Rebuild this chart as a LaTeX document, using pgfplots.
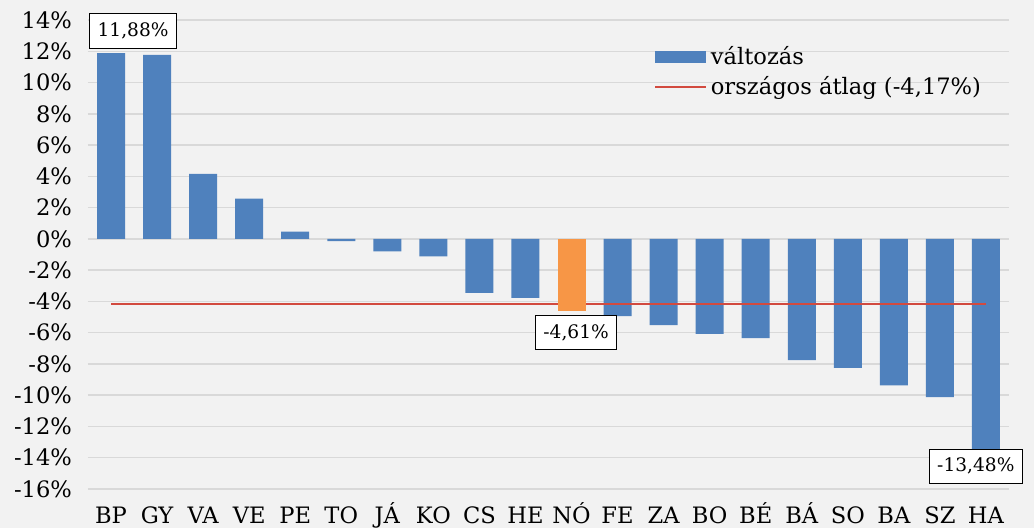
\documentclass[border=0pt]{standalone}
\usepackage{pgfplots}
\pgfplotsset{compat=1.18}
\usepackage{fontspec}
\setmainfont{DejaVu Serif}
\definecolor{barblue}{HTML}{4F81BD}
\definecolor{barorange}{HTML}{F79646}
\definecolor{avgred}{HTML}{D24A3F}
\definecolor{gridgray}{HTML}{D9D9D9}
\definecolor{bggray}{HTML}{F2F2F2}
\begin{document}
\begin{tikzpicture}[x=1pt,y=1pt]
\fill[bggray] (-44,-19.5) rectangle (473,244.5);
\useasboundingbox (-44,-19.5) rectangle (473,244.5);
\begin{axis}[at={(0,0)}, anchor=south west, scale only axis,
  width=460.5pt, height=234.5pt,
  xmin=-0.5, xmax=19.5, ymin=-16, ymax=14,
  xtick={0,...,19},
  xticklabels={BP,GY,VA,VE,PE,TO,JÁ,KO,CS,HE,NÓ,FE,ZA,BO,BÉ,BÁ,SO,BA,SZ,HA},
  ytick={-16,-14,...,14},
  yticklabel={\pgfmathprintnumber{\tick}\%},
  /pgf/number format/assume math mode=true,
  ymajorgrids, grid style={gridgray, line width=0.75pt},
  axis line style={draw=none}, major tick length=0pt,
  tick label style={font=\fontsize{11.3}{13}\selectfont},
  xticklabel style={text height=8.5pt, text depth=0pt, yshift=-5pt},
  yticklabel style={xshift=-4.5pt},
  legend style={at={(0.608,0.962)}, anchor=north west, draw=none, fill=none,
    font=\fontsize{11.3}{13}\selectfont, row sep=0.5pt, cells={anchor=west}},
  clip=false,
]
\addplot[ybar, bar width=14pt, bar shift=0pt, fill=barblue, draw=none,
  legend image code/.code={\fill[barblue] (0pt,-3pt) rectangle (25.5pt,3pt);}]
  coordinates {(0,11.88) (1,11.77) (2,4.16) (3,2.58) (4,0.47) (5,-0.15) (6,-0.8) (7,-1.12)
  (8,-3.45) (9,-3.78) (11,-4.95) (12,-5.52) (13,-6.08) (14,-6.35) (15,-7.76) (16,-8.25)
  (17,-9.38) (18,-10.13)  (19,-13.48)};
\addplot[avgred, line width=0.75pt, mark=none,
  legend image code/.code={\draw[avgred, line width=0.75pt] (0pt,0pt) -- (25.5pt,0pt);}]
  coordinates {(0,-4.17) (19,-4.17)};
\addplot[ybar, bar width=14pt, bar shift=0pt, fill=barorange, draw=none, forget plot]
  coordinates {(10,-4.61)};
\legend{változás,{országos átlag (-4,17\%)}}
\tikzset{lbl/.style={draw, fill=white, font=\fontsize{9.3}{11}\selectfont, inner xsep=4pt, inner ysep=4.5pt, line width=0.6pt}}
\node[lbl] at (axis cs:0.48,13.3) {11,88\%};
\node[lbl] at (axis cs:10.1,-6.0) {-4,61\%};
\node[lbl] at (axis cs:18.78,-14.55) {-13,48\%};
\end{axis}
\end{tikzpicture}
\end{document}
